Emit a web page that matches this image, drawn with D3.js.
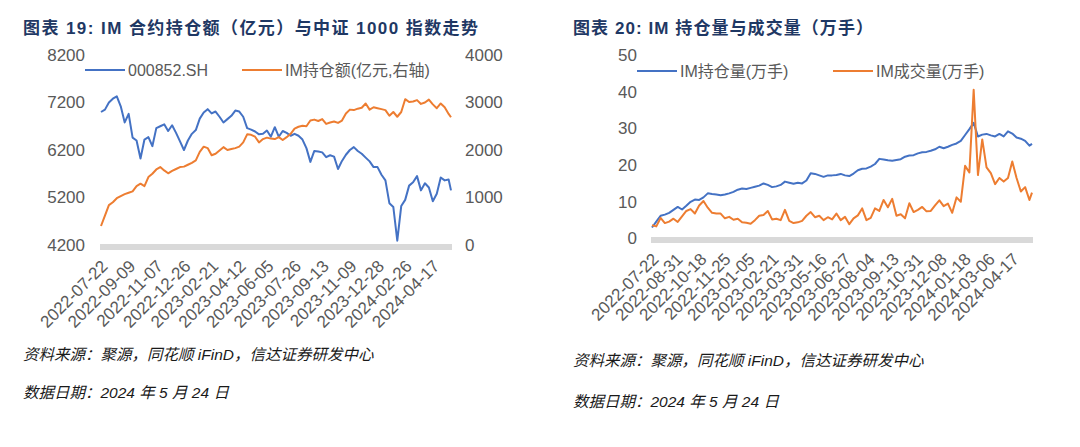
<!DOCTYPE html>
<html><head><meta charset="utf-8">
<script src="https://cdn.jsdelivr.net/npm/d3@7"></script>
<style>body{margin:0;background:#fff;} svg{display:block;}</style>
</head><body>
<svg id="c" width="1080" height="447"></svg>
<script>
// ---- data (sampled every 5 trading days, last point = 2024-05-24) ----
const dayStep = 5, lastDay = 443;
const csi1000 = [7000,7050,7200,7280,7330,7120,6780,6960,6460,6400,6020,6420,6470,6280,6660,6700,6740,6600,6720,6560,
  6380,6200,6400,6540,6620,6860,6990,7060,6970,7010,6900,6780,6850,6920,7030,7010,6900,6660,6630,6590,
  6530,6540,6610,6480,6680,6480,6600,6560,6500,6540,6500,6420,6240,5950,6180,6170,6150,6050,6090,6060,
  5800,5970,6100,6200,6260,6180,6120,6040,5960,5840,5840,5680,5560,5080,5000,4290,5020,5150,5450,5520,
  5650,5350,5500,5410,5120,5280,5620,5560,5580,5350];
const imOIValue = [400,620,840,900,985,1030,1070,1100,1130,1240,1290,1240,1430,1500,1590,1640,1570,1510,1560,1600,
  1640,1650,1690,1730,1780,1960,2070,2040,1890,1920,1990,2060,2000,2020,2040,2070,2160,2330,2320,2280,
  2160,2230,2260,2240,2230,2270,2210,2270,2340,2450,2490,2510,2500,2620,2640,2610,2650,2550,2580,2600,
  2570,2620,2770,2850,2840,2870,2890,2980,2850,2900,2880,2860,2840,2720,2800,2700,2800,3070,3010,3020,
  3050,2970,3000,3060,2960,2880,2980,2900,2760,2690];
const imOI = [3.0,4.6,6.2,6.5,7.0,7.8,8.6,7.9,8.9,10.0,10.6,10.5,11.2,12.3,12.1,12.0,11.8,12.0,12.3,12.7,
  13.3,13.6,13.5,13.8,14.1,14.4,15.0,14.6,14.0,14.2,14.6,15.5,15.2,14.9,15.2,15.0,15.8,17.8,17.6,17.2,
  16.8,17.2,17.2,17.3,17.6,17.2,17.0,17.7,18.6,19.0,19.1,19.6,20.3,21.7,21.5,21.3,21.2,21.4,21.6,22.3,
  22.6,22.7,23.2,23.5,23.6,23.9,24.3,25.0,24.6,25.0,25.5,25.9,26.6,28.2,29.8,31.5,27.8,28.3,28.5,28.1,
  27.8,28.5,27.8,29.2,28.6,27.5,27.2,26.6,25.3,25.8];
const imVol = [3.6,3.3,5.6,4.2,4.6,5.4,4.5,6.0,7.5,8.0,6.8,9.0,10.2,8.4,7.0,6.8,6.8,5.5,5.9,5.1,
  5.4,4.4,4.3,4.0,5.0,6.2,6.4,7.5,5.2,5.4,5.0,7.8,4.8,4.2,4.4,4.8,6.2,7.2,5.8,6.2,
  5.0,5.8,5.2,6.8,5.0,5.9,3.9,5.5,6.3,8.2,5.0,5.6,8.2,7.5,10.5,8.5,10.8,6.2,6.6,5.5,
  9.6,7.2,7.8,8.6,7.4,7.5,9.0,10.4,8.8,9.5,7.0,11.2,10.0,19.8,18.0,40.5,17.3,27.0,19.4,17.8,
  14.8,16.5,15.5,16.5,21.0,16.5,12.8,14.0,10.5,12.5];
const leftTickLabels = ["2022-07-22","2022-09-09","2022-11-07","2022-12-26","2023-02-21","2023-04-12","2023-06-05",
  "2023-07-26","2023-09-13","2023-11-09","2023-12-28","2024-02-26","2024-04-17"];
const rightTickLabels = ["2022-07-22","2022-08-31","2022-10-18","2022-11-25","2023-01-05","2023-02-21","2023-03-31",
  "2023-05-16","2023-06-27","2023-08-04","2023-09-13","2023-10-31","2023-12-08","2024-01-18","2024-03-06","2024-04-17"];
const leftTickStep = 35, rightTickStep = 28;
const leftYTicks = [4200,5200,6200,7200,8200];
const leftY2Ticks = [0,1000,2000,3000,4000];
const rightYTicks = [0,10,20,30,40,50];

const days = d3.range(0, lastDay, dayStep); days.push(lastDay);

const BLUE = "#4472C4", ORANGE = "#ED7D31", GREY = "#595959", NAVY = "#1F3864";
const svg = d3.select("#c");
const FONT = "'Liberation Sans', Arial, 'Noto Sans CJK SC', sans-serif";
const fmt = d3.format("d");

function styleAxis(g, size){
  g.select(".domain").remove();
  g.selectAll("text").attr("fill", GREY).style("font-family", FONT).style("font-size", (size||17)+"px");
}

function xAxisRot(x, ticks, labels, yPos){
  const ax = d3.axisBottom(x).tickValues(ticks).tickFormat((d,i)=>labels[i]).tickSize(0);
  const gg = svg.append("g").attr("transform", `translate(0,${yPos})`).call(ax);
  styleAxis(gg, 17);
  gg.selectAll("text").attr("y",0).attr("x",0).attr("dy","0.35em")
    .attr("text-anchor","end").attr("transform","translate(3,13) rotate(-45)");
}

function legend(y, items){
  items.forEach(it=>{
    svg.append("line").attr("x1",it.x).attr("x2",it.x+40).attr("y1",y).attr("y2",y)
      .attr("stroke",it.c).attr("stroke-width",2);
    svg.append("text").attr("x",it.x+43).attr("y",y).attr("dy","0.36em")
      .attr("fill",GREY).style("font-family",FONT).style("font-size","16px").text(it.t);
  });
}

function title(x, y, len, t){
  svg.append("text").attr("x",x).attr("y",y).attr("fill",NAVY)
    .style("font-family",FONT).style("font-weight","bold").style("font-size","17px")
    .attr("textLength",len).attr("lengthAdjust","spacing").text(t);
}
function note(x, y, t){
  svg.append("text").attr("x",x).attr("y",y).attr("fill","#1a1a1a")
    .style("font-family",FONT).style("font-style","italic").style("font-size","15.5px").text(t);
}

// ---------------- Left chart ----------------
{
  const x = d3.scaleLinear().domain([0,lastDay]).range([101,451]);
  const yL = d3.scaleLinear().domain([4200,8200]).range([245,55]);
  const yR = d3.scaleLinear().domain([0,4000]).range([245,55]);

  title(23, 34, 455, "图表 19:  IM 合约持仓额（亿元）与中证 1000 指数走势");

  styleAxis(svg.append("g").attr("transform","translate(101,0)")
    .call(d3.axisLeft(yL).tickValues(leftYTicks).tickFormat(fmt).tickSize(0).tickPadding(16)));
  styleAxis(svg.append("g").attr("transform","translate(451,0)")
    .call(d3.axisRight(yR).tickValues(leftY2Ticks).tickFormat(fmt).tickSize(0).tickPadding(14)));

  svg.append("line").attr("x1",x.range()[0]-1).attr("x2",x.range()[1]+1)
    .attr("y1",yL(4200)+2).attr("y2",yL(4200)+2).attr("stroke","#D9D9D9").attr("stroke-width",6);

  const lineL = d3.line().x((d,i)=>x(days[i])).y(d=>yL(d));
  const lineR = d3.line().x((d,i)=>x(days[i])).y(d=>yR(d));
  svg.append("path").datum(csi1000).attr("d",lineL).attr("fill","none").attr("stroke",BLUE).attr("stroke-width",2).attr("stroke-linejoin","round");
  svg.append("path").datum(imOIValue).attr("d",lineR).attr("fill","none").attr("stroke",ORANGE).attr("stroke-width",2).attr("stroke-linejoin","round");

  xAxisRot(x, leftTickLabels.map((d,i)=>i*leftTickStep), leftTickLabels, 250);

  legend(70, [{x:85,c:BLUE,t:"000852.SH"},{x:242,c:ORANGE,t:"IM持仓额(亿元,右轴)"}]);

  note(23, 360, "资料来源：聚源，同花顺 iFinD，信达证券研发中心");
  note(23, 398, "数据日期：2024 年 5 月 24 日");
}

// ---------------- Right chart ----------------
{
  const x = d3.scaleLinear().domain([0,lastDay]).range([652,1032]);
  const y = d3.scaleLinear().domain([0,50]).range([238.5,55]);

  title(573, 34, 300, "图表 20:  IM 持仓量与成交量（万手）");

  styleAxis(svg.append("g").attr("transform","translate(652,0)")
    .call(d3.axisLeft(y).tickValues(rightYTicks).tickFormat(fmt).tickSize(0).tickPadding(15)));

  svg.append("line").attr("x1",x.range()[0]-1).attr("x2",x.range()[1]+1)
    .attr("y1",y(0)+1.5).attr("y2",y(0)+1.5).attr("stroke","#D9D9D9").attr("stroke-width",6);

  const line = d3.line().x((d,i)=>x(days[i])).y(d=>y(d));
  svg.append("path").datum(imOI).attr("d",line).attr("fill","none").attr("stroke",BLUE).attr("stroke-width",2).attr("stroke-linejoin","round");
  svg.append("path").datum(imVol).attr("d",line).attr("fill","none").attr("stroke",ORANGE).attr("stroke-width",2).attr("stroke-linejoin","round");

  xAxisRot(x, rightTickLabels.map((d,i)=>i*rightTickStep), rightTickLabels, 243);

  legend(71, [{x:637,c:BLUE,t:"IM持仓量(万手)"},{x:833,c:ORANGE,t:"IM成交量(万手)"}]);

  note(573, 366, "资料来源：聚源，同花顺 iFinD，信达证券研发中心");
  note(573, 407, "数据日期：2024 年 5 月 24 日");
}
</script>
</body></html>
